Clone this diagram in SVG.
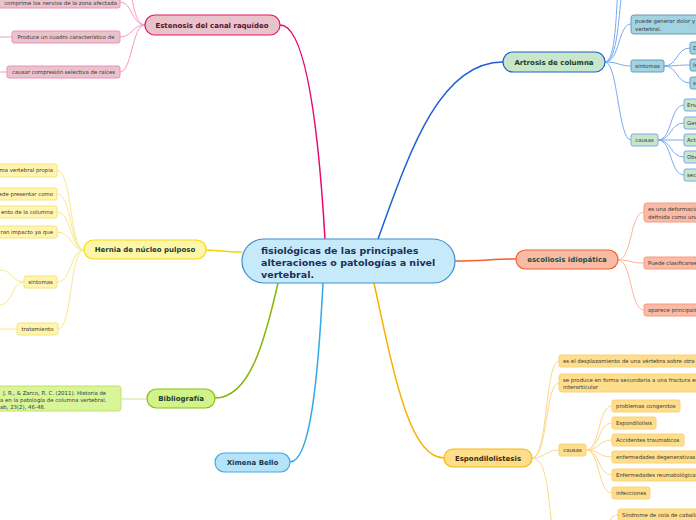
<svg xmlns="http://www.w3.org/2000/svg" width="696" height="520" viewBox="0 0 696 520">
<style>
text{font-family:"DejaVu Sans","Liberation Sans",sans-serif}
.t{font-size:7px;font-weight:bold;text-anchor:middle}
.c{font-size:5.4px;fill:#383838}
.m{text-anchor:middle}
.e{text-anchor:end}
path{fill:none}
.pk{fill:#e9c3cb;stroke:#f18fbb;stroke-width:1}
.bl{fill:#a1d3e3;stroke:#6b9cb4;stroke-width:1}
.gr{fill:#c8e6c9;stroke:#7aaaf0;stroke-width:1}
.sa{fill:#f9bba6;stroke:#f59c80;stroke-width:1}
.ye{fill:#fff5b0;stroke:#f6e47a;stroke-width:1}
.li{fill:#d9f59a;stroke:#bfe46a;stroke-width:1}
.or{fill:#fedd8b;stroke:#f9d27a;stroke-width:1}
</style>
<rect width="696" height="520" fill="#ffffff"/>
<g id="connectors">
<path d="M280,25 C305,25 318,120 325,239" stroke="#e8086e" stroke-width="1.5"/>
<path d="M378,239 C410,150 440,62 503,62" stroke="#1f5fd6" stroke-width="1.5"/>
<path d="M455,261 C480,261 495,259 516,259" stroke="#f2602d" stroke-width="1.5"/>
<path d="M242,252 C225,252 215,250 206,250" stroke="#f2d400" stroke-width="1.5"/>
<path d="M278,283 C265,340 250,398 215,398" stroke="#86b80a" stroke-width="1.5"/>
<path d="M323,283 C318,380 310,462 290,462" stroke="#30a8e8" stroke-width="1.5"/>
<path d="M374,283 C395,380 410,458 444,458" stroke="#f8b000" stroke-width="1.5"/>
<g stroke="#f59ac4" stroke-width="1">
<path d="M145,25 C132,25 132,2 120,2"/>
<path d="M145,25 C132,25 132,37 120,37"/>
<path d="M145,25 C132,25 132,72 120,72"/>
<path d="M145,25 C133,25 132,-10 128,-20"/>
<path d="M12,37 L0,37"/>
<path d="M7,72 L0,72"/>
</g>
<g stroke="#7aaaf0" stroke-width="1">
<path d="M605,62 C618,62 619,10 622,-10"/>
<path d="M605,62 C616,62 616,10 618,-10"/>
<path d="M605,62 C620,62 618,24 631,24"/>
<path d="M605,62 C618,62 620,66 631,66"/>
<path d="M605,62 C618,62 618,140 631,140"/>
<path d="M664,66 C678,66 676,48 690,48"/>
<path d="M664,66 C678,66 676,65 690,65"/>
<path d="M664,66 C678,66 676,83 690,83"/>
<path d="M658,140 C672,140 670,105 684,105"/>
<path d="M658,140 C672,140 670,123 684,123"/>
<path d="M658,140 L684,140"/>
<path d="M658,140 C672,140 670,157 684,157"/>
<path d="M658,140 C672,140 670,175 684,175"/>
</g>
<g stroke="#fbb6a0" stroke-width="1">
<path d="M618,260 C632,260 630,212 644,212"/>
<path d="M618,260 C632,260 630,263 644,263"/>
<path d="M618,260 C632,260 630,310 644,310"/>
</g>
<g stroke="#f8e890" stroke-width="1">
<path d="M84,250 C70,250 72,170 57,170"/>
<path d="M84,250 C70,250 72,194 57,194"/>
<path d="M84,250 C70,250 72,212 57,212"/>
<path d="M84,250 C70,250 72,232 57,232"/>
<path d="M84,250 C70,250 72,282 57,282"/>
<path d="M84,250 C70,250 72,329 58,329"/>
<path d="M24,282 C12,282 12,270 0,270"/>
<path d="M24,282 C12,282 12,305 0,305"/>
<path d="M17,329 L0,329"/>
</g>
<path d="M147,399 L121,399" stroke="#dcecb8" stroke-width="1.5"/>
<g stroke="#fcd88a" stroke-width="1">
<path d="M532,458 C548,458 545,361 559,361"/>
<path d="M532,458 C548,458 545,383 559,383"/>
<path d="M532,458 C546,458 545,450 559,450"/>
<path d="M532,458 C548,458 548,500 552,525"/>
<path d="M586,450 C600,450 598,406 612,406"/>
<path d="M586,450 C600,450 598,423 612,423"/>
<path d="M586,450 C600,450 598,440 612,440"/>
<path d="M586,450 C600,450 598,457 612,457"/>
<path d="M586,450 C600,450 598,475 612,475"/>
<path d="M586,450 C600,450 598,493 612,493"/>
<path d="M605,530 C612,520 610,515 618,515"/>
</g>
</g>
<g id="center">
<rect x="242" y="239" width="213" height="44" rx="22" fill="#c7eafb" stroke="#3d8fd1" stroke-width="1.2"/>
<text x="261" y="254" font-size="9.5" font-weight="bold" fill="#1c2f57">fisiológicas de las principales</text>
<text x="261" y="266" font-size="9.5" font-weight="bold" fill="#1c2f57">alteraciones o patologías a nivel</text>
<text x="261" y="278" font-size="9.5" font-weight="bold" fill="#1c2f57">vertebral.</text>
</g>
<g id="estenosis">
<rect x="145" y="15" width="135" height="20" rx="10" fill="#e9c3cb" stroke="#e6176f" stroke-width="1.2"/>
<text class="t" x="212" y="28" fill="#5a1030">Estenosis del canal raquídeo</text>
</g>
<g id="est-1"><rect class="pk" x="-10" y="-4" width="130" height="12" rx="2"/><text class="c e" x="117" y="5">comprime los nervios de la zona afectada</text></g>
<g id="est-2"><rect class="pk" x="12" y="31" width="108" height="12" rx="2"/><text class="c m" x="66" y="39">Produce un cuadro característico de</text></g>
<g id="est-3"><rect class="pk" x="7" y="66" width="113" height="12" rx="2"/><text class="c m" x="63.5" y="74">causar compresión selectiva de raíces</text></g>
<g id="artrosis">
<rect x="503" y="52" width="102" height="20" rx="10" fill="#c8e6c9" stroke="#1f5fd6" stroke-width="1.2"/>
<text class="t" x="554" y="65" fill="#1a3a2a">Artrosis de columna</text>
</g>
<g id="art-dolor"><rect class="bl" x="631" y="15" width="80" height="19" rx="3"/><text class="c" x="635" y="23">puede generar dolor y</text><text class="c" x="635" y="31">vertebral.</text></g>
<g id="art-sintomas"><rect class="bl" x="631" y="60" width="33" height="12" rx="2"/><text class="c m" x="647.5" y="68">síntomas</text></g>
<g id="art-s1"><rect class="bl" x="690" y="42" width="20" height="12" rx="2"/><text class="c" x="693" y="50">Dolor</text></g>
<g id="art-s2"><rect class="bl" x="690" y="59" width="20" height="12" rx="2"/><text class="c" x="693" y="67">Inflamación</text></g>
<g id="art-s3"><rect class="bl" x="690" y="77" width="20" height="12" rx="2"/><text class="c" x="693" y="85">sensación</text></g>
<g id="art-causas"><rect class="gr" x="631" y="134" width="27" height="12" rx="2" stroke="#7aaab8"/><text class="c m" x="644.5" y="142">causas</text></g>
<g id="art-c1"><rect class="gr" x="684" y="99" width="20" height="12" rx="2"/><text class="c" x="687" y="107">Envejecimiento</text></g>
<g id="art-c2"><rect class="gr" x="684" y="117" width="20" height="12" rx="2"/><text class="c" x="687" y="125">Genética</text></g>
<g id="art-c3"><rect class="gr" x="684" y="134" width="20" height="12" rx="2"/><text class="c" x="687" y="142">Actividad</text></g>
<g id="art-c4"><rect class="gr" x="684" y="151" width="20" height="12" rx="2"/><text class="c" x="687" y="159">Obesidad</text></g>
<g id="art-c5"><rect class="gr" x="684" y="169" width="20" height="12" rx="2"/><text class="c" x="687" y="177">secundaria</text></g>
<g id="escoliosis">
<rect x="516" y="250" width="102" height="19" rx="9.5" fill="#f9bba6" stroke="#f2602d" stroke-width="1.2"/>
<text class="t" x="567" y="262" fill="#1a5040">escoliosis idiopática</text>
</g>
<g id="esc-1"><rect class="sa" x="644" y="203" width="70" height="19" rx="3"/><text class="c" x="648" y="211">es una deformación</text><text class="c" x="648" y="219">definida como una</text></g>
<g id="esc-2"><rect class="sa" x="644" y="257" width="70" height="12" rx="2"/><text class="c" x="648" y="265">Puede clasificarse</text></g>
<g id="esc-3"><rect class="sa" x="644" y="304" width="70" height="12" rx="2"/><text class="c" x="648" y="312">aparece principalmente</text></g>
<g id="hernia">
<rect x="84" y="240" width="122" height="19" rx="9.5" fill="#fff6aa" stroke="#f4dc12" stroke-width="1.2"/>
<text class="t" x="145" y="252" fill="#1a4030">Hernia de núcleo pulposo</text>
</g>
<g id="her-1"><rect class="ye" x="-10" y="164" width="67" height="13" rx="2"/><text class="c e" x="53" y="172">ma vertebral propia</text></g>
<g id="her-2"><rect class="ye" x="-10" y="188" width="67" height="12" rx="2"/><text class="c e" x="53" y="196">ede presentar como</text></g>
<g id="her-3"><rect class="ye" x="-10" y="206" width="67" height="12" rx="2"/><text class="c e" x="53" y="214">ento de la columna</text></g>
<g id="her-4"><rect class="ye" x="-10" y="226" width="67" height="12" rx="2"/><text class="c e" x="53" y="234">ran impacto ya que</text></g>
<g id="her-sintomas"><rect class="ye" x="24" y="276" width="33" height="12" rx="2"/><text class="c m" x="40.5" y="284">síntomas</text></g>
<g id="her-tratamiento"><rect class="ye" x="17" y="323" width="41" height="12" rx="2"/><text class="c m" x="37.5" y="331">tratamiento</text></g>
<g id="bibliografia">
<rect x="147" y="389" width="68" height="19" rx="9.5" fill="#d2f28a" stroke="#86c20a" stroke-width="1.2"/>
<text class="t" x="181" y="401" fill="#1a4030">Bibliografía</text>
</g>
<g id="bib-1"><rect class="li" x="-10" y="386" width="131" height="25" rx="3"/><text class="c" x="3" y="395">J. R., &amp; Zarco, R. C. (2011). Historia de</text><text class="c" x="0" y="402">a en la patología de columna vertebral.</text><text class="c" x="0" y="409">ab, 23(2), 46-48.</text></g>
<g id="ximena">
<rect x="215" y="453" width="75" height="19" rx="9.5" fill="#b6e3f8" stroke="#3aaeea" stroke-width="1.2"/>
<text class="t" x="252.5" y="465" fill="#1a3a50">Ximena Bello</text>
</g>
<g id="espondilolistesis">
<rect x="444" y="449" width="88" height="18" rx="9" fill="#fedd8b" stroke="#f6b90c" stroke-width="1.2"/>
<text class="t" x="488" y="461" fill="#3a2a10">Espondilolistesis</text>
</g>
<g id="esp-1"><rect class="or" x="559" y="355" width="145" height="12" rx="2"/><text class="c" x="563" y="363">es el desplazamiento de una vértebra sobre otra</text></g>
<g id="esp-2"><rect class="or" x="559" y="374" width="145" height="18" rx="3"/><text class="c" x="563" y="382">se produce en forma secundaria a una fractura en</text><text class="c" x="563" y="389">interarticular</text></g>
<g id="esp-causas"><rect class="or" x="559" y="444" width="27" height="12" rx="2"/><text class="c m" x="572.5" y="452">causas</text></g>
<g id="esp-c1"><rect class="or" x="612" y="400" width="68" height="12" rx="2"/><text class="c" x="616" y="408">problemas congenitos</text></g>
<g id="esp-c2"><rect class="or" x="612" y="417" width="44" height="12" rx="2"/><text class="c" x="616" y="425">Espondilolisis</text></g>
<g id="esp-c3"><rect class="or" x="612" y="434" width="72" height="12" rx="2"/><text class="c" x="616" y="442">Accidentes traumaticos</text></g>
<g id="esp-c4"><rect class="or" x="612" y="451" width="90" height="12" rx="2"/><text class="c" x="616" y="459">enfermedades degenerativas</text></g>
<g id="esp-c5"><rect class="or" x="612" y="469" width="90" height="12" rx="2"/><text class="c" x="616" y="477">Enfermedades reumatológicas</text></g>
<g id="esp-c6"><rect class="or" x="612" y="487" width="38" height="12" rx="2"/><text class="c" x="616" y="495">infecciones</text></g>
<g id="esp-s1"><rect class="or" x="618" y="509" width="90" height="12" rx="2"/><text class="c" x="622" y="517">Síndrome de cola de caballo</text></g>
</svg>
